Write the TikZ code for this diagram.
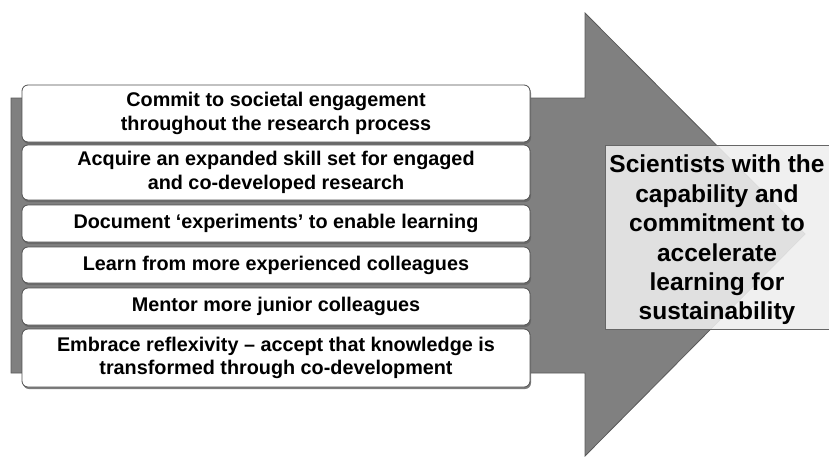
\documentclass[tikz,border=0pt]{standalone}
\usepackage{fontspec}
\setmainfont{Liberation Sans}
\usetikzlibrary{shadows}
\definecolor{arrowfill}{HTML}{808080}
\definecolor{arrowline}{HTML}{5A5A5A}
\definecolor{boxline}{HTML}{505050}
\definecolor{resultfill}{HTML}{EEEEEE}
\tikzset{
  item/.style={draw=boxline, line width=0.8pt, fill=white, rounded corners=6pt,
    minimum width=508pt, align=center, inner sep=0pt,
    font=\bfseries\fontsize{19.8}{23.5}\selectfont,
    drop shadow={shadow xshift=1pt, shadow yshift=-2pt, fill=black!60, opacity=0.85}},
  result/.style={draw=arrowfill!80!black, line width=0.6pt, fill=resultfill, fill opacity=0.88,
    text opacity=1, minimum width=224pt, minimum height=184pt, align=center, inner sep=0pt,
    font=\bfseries\fontsize{24.5}{29.4}\selectfont},
}
\begin{document}
\begin{tikzpicture}[x=1pt,y=-1pt]
\useasboundingbox (0,0) rectangle (829,456);
\draw[fill=arrowfill, draw=arrowline, line width=0.8pt] (11,98) -- (585,98) -- (585,13) -- (805,234) -- (585,456) -- (585,373) -- (11,373) -- cycle;
\node[item, minimum height=57pt] (b1) at (276,113.5) {Commit to societal engagement\\throughout the research process};
\node[item, minimum height=55pt] (b2) at (276,172.5) {Acquire an expanded skill set for engaged\\and co-developed research};
\node[item, minimum height=37pt] (b3) at (276,223.5) {Document ‘experiments’ to enable learning};
\node[item, minimum height=36pt] (b4) at (276,265) {Learn from more experienced colleagues};
\node[item, minimum height=37pt] (b5) at (276,306.5) {Mentor more junior colleagues};
\node[item, minimum height=58pt] (b6) at (276,358) {Embrace reflexivity – accept that knowledge is\\transformed through co-development};
\node[result] (r) at (717,237) {};
\node[font=\bfseries\fontsize{24.5}{29.4}\selectfont, align=center, inner sep=0pt] (rt) at (717,240) {Scientists with the\\capability and\\commitment to\\accelerate\\learning for\\sustainability};
\end{tikzpicture}
\end{document}
